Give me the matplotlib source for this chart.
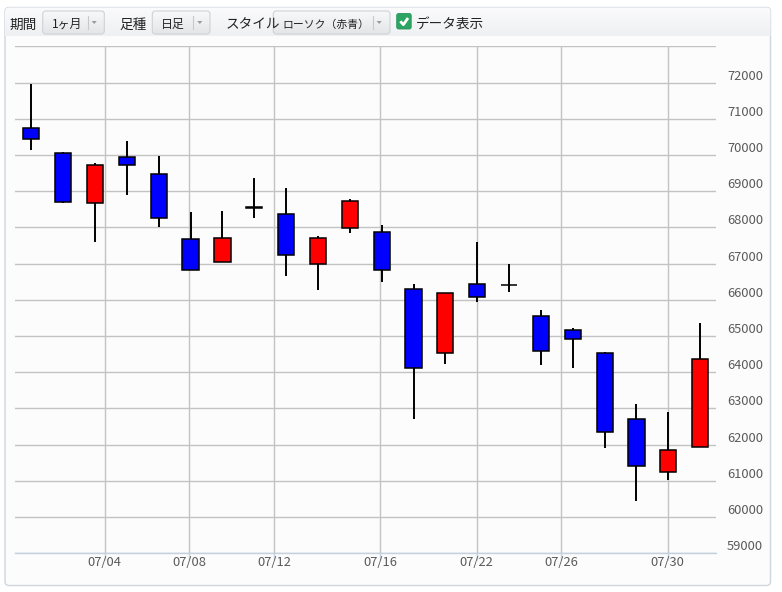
import matplotlib
matplotlib.use("Agg")
import matplotlib.pyplot as plt
import numpy as np
from matplotlib.patches import FancyBboxPatch, Polygon
from matplotlib.colors import LinearSegmentedColormap

plt.rcParams["font.family"] = ["Noto Sans CJK JP", "DejaVu Sans"]

# daily candles, July (red = up, blue = down)
opens = [70755, 70040, 68660, 69955, 69460, 67690, 67030, 68550, 68380, 66975, 67970,
         67885, 66310, 64520, 66425, 66400, 65565, 65155, 64520, 62715, 61235, 61925]
closes = [70452, 68710, 69735, 69735, 68245, 66810, 67720, 68525, 67225, 67720, 68740,
          66810, 64130, 66200, 66090, 66400, 64600, 64905, 62340, 61400, 61840, 64360]
highs = [71950, 70075, 69770, 70380, 69965, 68420, 68445, 69355, 69080, 67775, 68775,
         68060, 66425, 66200, 67590, 67000, 65715, 65210, 64545, 63120, 62900, 65355]
lows = [70137, 68675, 67600, 68895, 68010, 66810, 67030, 68260, 66660, 66275, 67845,
        66495, 62700, 64215, 65945, 66220, 64205, 64120, 61915, 60450, 61030, 61925]

date_labels = ["07/04", "07/08", "07/12", "07/16", "07/22", "07/26", "07/30"]
date_pos = [2.30, 4.96, 7.63, 10.95, 13.98, 16.64, 19.98]
price_ticks = list(range(59000, 73001, 1000))

W, H = 782, 592
fig = plt.figure(figsize=(W / 100, H / 100), dpi=100)
fig.patch.set_facecolor("white")

# background layer in pixel coords
bg = fig.add_axes([0, 0, 1, 1])
bg.set_xlim(0, W)
bg.set_ylim(H, 0)
bg.axis("off")
bg.set_zorder(0)

panel = FancyBboxPatch((5, 7.5), 765.5, 578, boxstyle="round,pad=0,rounding_size=4",
                       fc="#fcfcfc", ec="#cfd6de", lw=1)
bg.add_patch(panel)

def gradient(x0, x1, y0, y1, c0, c1, clip):
    cmap = LinearSegmentedColormap.from_list("g", [c0, c1])
    g = np.linspace(0, 1, 64).reshape(-1, 1)
    im = bg.imshow(g, cmap=cmap, extent=(x0, x1, y1, y0), origin="upper",
                   aspect="auto", interpolation="bilinear", zorder=1)
    im.set_clip_path(clip)

gradient(5, 771, 7.5, 36, "#fbfbfc", "#eef0f2", panel)

TY = 24.5  # toolbar text centre line

def button(x0, x1, text, sep, fs):
    b = FancyBboxPatch((x0, 11), x1 - x0, 23, boxstyle="round,pad=0,rounding_size=3",
                       fc="none", ec="#cfd2d6", lw=0.8, zorder=3)
    bg.add_patch(b)
    gradient(x0, x1, 11, 34, "#f8f9fa", "#e3e5e8", b)
    bg.text(x0 + 9, TY, text, fontsize=fs, color="#222222", va="center", ha="left", zorder=4)
    bg.plot([sep, sep], [16, 29], color="#c9c9c9", lw=0.8, zorder=4)
    ax_ = sep + 6.5
    bg.add_patch(Polygon([[ax_ - 2.5, 21], [ax_ + 2.5, 21], [ax_, 24]], closed=True,
                         fc="#9a9a9a", ec="none", zorder=4))

lab_kw = dict(fontsize=9.8, color="#222222", va="center", ha="left", zorder=4)
bg.text(9, TY, "期間", **lab_kw)
button(42.7, 104.3, "1ヶ月", 87.7, 8.6)
bg.text(119.5, TY, "足種", **lab_kw)
button(152.3, 210, "日足", 193.3, 8.6)
bg.text(226, TY, "スタイル", **lab_kw)
button(273.3, 390, "ローソク（赤青）", 372.7, 7.8)

cb = FancyBboxPatch((396.7, 13.5), 14.5, 15.5, boxstyle="round,pad=0,rounding_size=2",
                    fc="#2da562", ec="#27945a", lw=0.6, zorder=4)
bg.add_patch(cb)
bg.plot([400.3, 403.4, 408.0], [21.3, 24.6, 18.0], color="white", lw=2.0,
        solid_capstyle="butt", zorder=5)
bg.text(416, TY, "データ表示", **lab_kw)

# chart
ax = fig.add_axes([15 / W, 1 - 553.3 / H, (715.5 - 15) / W, (553.3 - 46.3) / H])
ax.set_zorder(2)
ax.patch.set_alpha(0)

x = np.arange(len(opens))
o = np.array(opens)
c = np.array(closes)
up = c >= o
colors = np.where(up, "#ff0000", "#0000ff")
bottoms = np.minimum(o, c)
heights = np.abs(c - o)

ax.vlines(x, lows, highs, color="black", lw=1.4, zorder=3)
ax.bar(x, heights, width=0.51, bottom=bottoms, color=colors, edgecolor="black",
       linewidth=1.1, zorder=4)

ax.set_xlim(-0.51, 21.48)
ax.set_ylim(59000, 73000)

ax.set_yticks(price_ticks)
ax.set_yticklabels([str(v) if v < 73000 else "" for v in price_ticks])
ax.yaxis.tick_right()
ax.tick_params(axis="y", length=0, pad=8.3, labelsize=9.3, labelcolor="#5a5a5a")
for lbl in ax.get_yticklabels():
    lbl.set_va("bottom")

ax.set_xticks(date_pos)
ax.set_xticklabels(date_labels)
ax.tick_params(axis="x", length=5, width=1, color="#c3d1e0", pad=-3,
               labelsize=9.3, labelcolor="#5a5a5a")

ax.grid(True, color="#c3c3c3", lw=1)
ax.set_axisbelow(True)
for s in ["top", "left", "right"]:
    ax.spines[s].set_visible(False)
ax.spines["bottom"].set_color("#c3d1e0")
ax.spines["bottom"].set_linewidth(1)

fig.savefig("out.png", dpi=100)
